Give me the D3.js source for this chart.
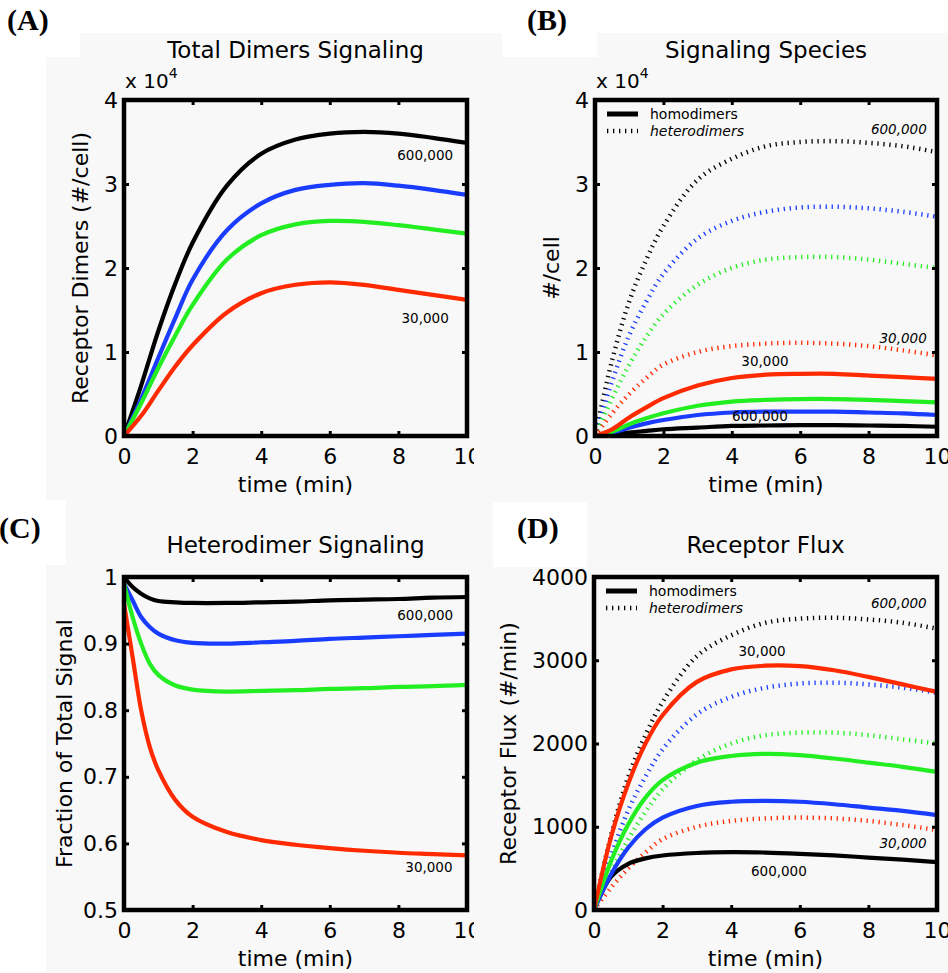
<!doctype html>
<html lang="en">
<head>
<meta charset="utf-8">
<title>Receptor dimer signaling</title>
<script src="https://cdn.jsdelivr.net/npm/d3@7"></script>
<style>
  body { margin: 0; background: #fff; }
  svg text { font-family: "DejaVu Sans", sans-serif; fill: #000; }
  .tag { font-family: "Liberation Serif", "Times New Roman", serif; font-weight: bold; font-size: 30px; }
  .title { font-size: 23px; }
  .tick text { font-size: 22px; }
  .axis-label { font-size: 22px; }
  .note { font-size: 13.5px; }
  .legend { font-size: 14px; }
</style>
</head>
<body>
<svg id="fig" width="948" height="973"></svg>
<script>
// time points (min)
var times = [0, 0.5, 1, 1.5, 2, 3, 4, 5, 6, 7, 8, 9, 10];
var timesC = [0, 0.25, 0.5, 0.75, 1, 1.5, 2, 3, 4, 5, 6, 7, 8, 9, 10];
var xTicks = [0, 2, 4, 6, 8, 10];

// (A) total signaling dimers, x 10^4 per cell
var totalBlack = [0, 0.6, 1.25, 1.82, 2.3, 2.98, 3.36, 3.53, 3.6, 3.62, 3.6, 3.55, 3.49];
var totalBlue  = [0, 0.44, 0.93, 1.41, 1.86, 2.45, 2.77, 2.93, 2.99, 3.01, 2.98, 2.93, 2.87];
var totalGreen = [0, 0.39, 0.81, 1.2, 1.56, 2.1, 2.39, 2.52, 2.56, 2.55, 2.51, 2.46, 2.41];
var totalRed   = [0, 0.24, 0.54, 0.83, 1.08, 1.47, 1.7, 1.8, 1.83, 1.8, 1.74, 1.68, 1.62];

// (B) signaling species, x 10^4 per cell
var homoBlack  = [0, 0.02, 0.04, 0.06, 0.08, 0.1, 0.12, 0.125, 0.13, 0.13, 0.125, 0.12, 0.11];
var homoBlue   = [0, 0.04, 0.1, 0.15, 0.19, 0.25, 0.28, 0.29, 0.29, 0.29, 0.28, 0.27, 0.25];
var homoGreen  = [0, 0.05, 0.14, 0.21, 0.27, 0.36, 0.41, 0.43, 0.44, 0.44, 0.43, 0.415, 0.4];
var homoRed    = [0, 0.08, 0.22, 0.34, 0.45, 0.6, 0.69, 0.73, 0.74, 0.74, 0.72, 0.7, 0.68];
var heteroBlack = [0, 0.9, 1.6, 2.1, 2.5, 3.05, 3.3, 3.45, 3.5, 3.51, 3.49, 3.45, 3.38];
var heteroBlue  = [0, 0.65, 1.2, 1.6, 1.93, 2.35, 2.56, 2.67, 2.72, 2.73, 2.71, 2.67, 2.61];
var heteroGreen = [0, 0.45, 0.85, 1.18, 1.45, 1.8, 2.0, 2.1, 2.13, 2.13, 2.1, 2.05, 2.0];
var heteroRed   = [0, 0.27, 0.5, 0.69, 0.85, 1.0, 1.07, 1.1, 1.11, 1.1, 1.07, 1.02, 0.96];

// (C) heterodimer fraction of total signal (timesC)
var fracBlack = [1.0, 0.985, 0.975, 0.968, 0.964, 0.962, 0.961, 0.961, 0.962, 0.963, 0.965, 0.966, 0.967, 0.969, 0.97];
var fracBlue  = [0.99, 0.965, 0.94, 0.925, 0.915, 0.905, 0.901, 0.9, 0.902, 0.904, 0.907, 0.909, 0.911, 0.913, 0.915];
var fracGreen = [0.99, 0.94, 0.9, 0.87, 0.853, 0.837, 0.831, 0.828, 0.829, 0.83, 0.832, 0.833, 0.835, 0.836, 0.838];
var fracRed   = [0.96, 0.88, 0.8, 0.745, 0.71, 0.665, 0.64, 0.617, 0.605, 0.598, 0.593, 0.589, 0.586, 0.584, 0.582];

// (D) receptor flux, #/min
var fluxHomoBlack = [0, 400, 555, 620, 655, 685, 695, 690, 675, 655, 630, 605, 575];
var fluxHomoBlue  = [0, 430, 750, 970, 1110, 1250, 1300, 1310, 1300, 1270, 1230, 1190, 1140];
var fluxHomoGreen = [0, 590, 1030, 1350, 1560, 1770, 1850, 1875, 1860, 1820, 1770, 1720, 1660];
var fluxHomoRed   = [0, 880, 1520, 2000, 2340, 2740, 2890, 2935, 2930, 2880, 2800, 2710, 2620];
var fluxHeteroBlack = [0, 900, 1600, 2100, 2500, 3050, 3300, 3450, 3500, 3510, 3490, 3450, 3380];
var fluxHeteroBlue  = [0, 650, 1200, 1600, 1930, 2350, 2560, 2670, 2720, 2730, 2710, 2670, 2610];
var fluxHeteroGreen = [0, 450, 850, 1180, 1450, 1800, 2000, 2100, 2130, 2130, 2100, 2050, 2000];
var fluxHeteroRed   = [0, 270, 500, 690, 850, 1000, 1070, 1100, 1110, 1100, 1070, 1020, 960];

var colors = { black: "#000000", blue: "#1a3cff", green: "#22ee22", red: "#ff2a00" };

var svg = d3.select("#fig");

// light grey figure background with white patches behind the panel tags
var grey = "#f8f8f8";
svg.append("path")
  .attr("d", "M80,33H948V973H46V57H80Z")
  .attr("fill", grey);
svg.append("rect").attr("x", 502).attr("y", 33).attr("width", 95).attr("height", 24).attr("fill", "#fff");
svg.append("rect").attr("x", 0).attr("y", 500).attr("width", 66).attr("height", 65).attr("fill", "#fff");
svg.append("rect").attr("x", 493).attr("y", 502).attr("width", 94).attr("height", 65).attr("fill", "#fff");

svg.append("defs").append("clipPath").attr("id", "leftclip")
  .append("rect").attr("x", 0).attr("y", 0).attr("width", 474).attr("height", 973);

var panels = [
  {
    tag: "(A)", tagX: 7, tagY: 30, left: 124, top: 100, right: 467, bottom: 436,
    title: "Total Dimers Signaling", titleY: 58, ylabel: "Receptor Dimers (#/cell)", ylabelX: 88,
    yDomain: [0, 4], yTicks: [0, 1, 2, 3, 4], exponent: true, t: times, clip: true,
    series: [
      { v: totalBlack, c: "black" }, { v: totalBlue, c: "blue" },
      { v: totalGreen, c: "green" }, { v: totalRed, c: "red" }
    ],
    notes: [
      { t: 8.78, v: 3.29, text: "600,000", anchor: "middle" },
      { t: 8.78, v: 1.35, text: "30,000", anchor: "middle" }
    ]
  },
  {
    tag: "(B)", tagX: 527, tagY: 30, left: 595, top: 100, right: 937, bottom: 436,
    title: "Signaling Species", titleY: 58, ylabel: "#/cell", ylabelX: 559,
    yDomain: [0, 4], yTicks: [0, 1, 2, 3, 4], exponent: true, t: times, legend: true,
    series: [
      { v: heteroBlack, c: "black", dot: true }, { v: heteroBlue, c: "blue", dot: true },
      { v: heteroGreen, c: "green", dot: true }, { v: heteroRed, c: "red", dot: true },
      { v: homoBlack, c: "black" }, { v: homoBlue, c: "blue" },
      { v: homoGreen, c: "green" }, { v: homoRed, c: "red" }
    ],
    notes: [
      { t: 9.7, v: 3.6, text: "600,000", anchor: "end", italic: true },
      { t: 9.7, v: 1.11, text: "30,000", anchor: "end", italic: true },
      { t: 4.97, v: 0.83, text: "30,000", anchor: "middle" },
      { t: 4.82, v: 0.18, text: "600,000", anchor: "middle" }
    ]
  },
  {
    tag: "(C)", tagX: -1, tagY: 538, left: 124, top: 577, right: 467, bottom: 910,
    title: "Heterodimer Signaling", titleY: 553, ylabel: "Fraction of Total Signal", ylabelX: 72,
    yDomain: [0.5, 1], yTicks: [0.5, 0.6, 0.7, 0.8, 0.9, 1], t: timesC, clip: true,
    series: [
      { v: fracBlack, c: "black" }, { v: fracBlue, c: "blue" },
      { v: fracGreen, c: "green" }, { v: fracRed, c: "red" }
    ],
    notes: [
      { t: 8.78, v: 0.935, text: "600,000", anchor: "middle" },
      { t: 8.89, v: 0.557, text: "30,000", anchor: "middle" }
    ]
  },
  {
    tag: "(D)", tagX: 517, tagY: 538, left: 594, top: 577, right: 937, bottom: 910,
    title: "Receptor Flux", titleY: 553, ylabel: "Receptor Flux (#/min)", ylabelX: 516,
    yDomain: [0, 4000], yTicks: [0, 1000, 2000, 3000, 4000], t: times, legend: true,
    series: [
      { v: fluxHeteroBlack, c: "black", dot: true }, { v: fluxHeteroBlue, c: "blue", dot: true },
      { v: fluxHeteroGreen, c: "green", dot: true }, { v: fluxHeteroRed, c: "red", dot: true },
      { v: fluxHomoBlack, c: "black" }, { v: fluxHomoBlue, c: "blue" },
      { v: fluxHomoGreen, c: "green" }, { v: fluxHomoRed, c: "red" }
    ],
    notes: [
      { t: 9.7, v: 3628, text: "600,000", anchor: "end", italic: true },
      { t: 9.7, v: 745, text: "30,000", anchor: "end", italic: true },
      { t: 4.9, v: 3051, text: "30,000", anchor: "middle" },
      { t: 5.39, v: 408, text: "600,000", anchor: "middle" }
    ]
  }
];

panels.forEach(function(p) {
  var root = svg.append("g");
  if (p.clip) root.attr("clip-path", "url(#leftclip)");

  var x = d3.scaleLinear().domain([0, 10]).range([p.left, p.right]);
  var y = d3.scaleLinear().domain(p.yDomain).range([p.bottom, p.top]);

  root.append("text").attr("class", "tag")
    .attr("x", p.tagX).attr("y", p.tagY).text(p.tag);

  root.append("text").attr("class", "title")
    .attr("x", (p.left + p.right) / 2).attr("y", p.titleY)
    .attr("text-anchor", "middle").text(p.title);

  // curves
  var line = d3.line()
    .x(function(d, i) { return x(p.t[i]); })
    .y(function(d) { return y(d); })
    .curve(d3.curveCatmullRom.alpha(0.5));

  p.series.forEach(function(s) {
    root.append("path")
      .attr("d", line(s.v))
      .attr("fill", "none")
      .attr("stroke", colors[s.c])
      .attr("stroke-width", s.dot ? 4.5 : 4.2)
      .attr("stroke-dasharray", s.dot ? "1.3 4.7" : null)
      .attr("stroke-linejoin", "round");
  });

  // annotations
  p.notes.forEach(function(n) {
    root.append("text").attr("class", "note")
      .attr("x", x(n.t)).attr("y", y(n.v))
      .attr("text-anchor", n.anchor)
      .style("font-style", n.italic ? "italic" : null)
      .text(n.text);
  });

  // legend
  if (p.legend) {
    var lg = root.append("g").attr("transform", "translate(" + p.left + "," + p.top + ")");
    [{ label: "homodimers", dot: false, dy: 14 }, { label: "heterodimers", dot: true, dy: 31 }].forEach(function(e) {
      lg.append("line")
        .attr("x1", 12).attr("x2", 43).attr("y1", e.dy).attr("y2", e.dy)
        .attr("stroke", "#000")
        .attr("stroke-width", e.dot ? 4.5 : 5)
        .attr("stroke-dasharray", e.dot ? "1.3 4.7" : null);
      lg.append("text").attr("class", "legend")
        .attr("x", 55).attr("y", e.dy + 5)
        .style("font-style", e.dot ? "italic" : null)
        .text(e.label);
    });
  }

  // axes with inward ticks on all four sides
  var fmt = function(d) { return String(d); };
  var bottom = root.append("g").attr("transform", "translate(0," + p.bottom + ")")
    .call(d3.axisBottom(x).tickValues(xTicks).tickSizeInner(-5).tickSizeOuter(0).tickPadding(12).tickFormat(fmt));
  var top = root.append("g").attr("transform", "translate(0," + p.top + ")")
    .call(d3.axisTop(x).tickValues(xTicks).tickSizeInner(-5).tickSizeOuter(0).tickFormat(""));
  var left = root.append("g").attr("transform", "translate(" + p.left + ",0)")
    .call(d3.axisLeft(y).tickValues(p.yTicks).tickSizeInner(-5).tickSizeOuter(0).tickPadding(6).tickFormat(fmt));
  var right = root.append("g").attr("transform", "translate(" + p.right + ",0)")
    .call(d3.axisRight(y).tickValues(p.yTicks).tickSizeInner(-5).tickSizeOuter(0).tickFormat(""));
  [bottom, top, left, right].forEach(function(a) {
    a.attr("font-family", null).attr("font-size", null);
    a.select(".domain").remove();
    a.selectAll(".tick line").attr("stroke-width", 3);
  });

  root.append("rect")
    .attr("x", p.left).attr("y", p.top)
    .attr("width", p.right - p.left).attr("height", p.bottom - p.top)
    .attr("fill", "none").attr("stroke", "#000").attr("stroke-width", 4.5);

  root.append("text").attr("class", "axis-label")
    .attr("x", (p.left + p.right) / 2).attr("y", p.bottom + 56)
    .attr("text-anchor", "middle").text("time (min)");

  root.append("text").attr("class", "axis-label")
    .attr("transform", "translate(" + p.ylabelX + "," + ((p.top + p.bottom) / 2) + ") rotate(-90)")
    .attr("text-anchor", "middle").text(p.ylabel);

  if (p.exponent) {
    var ex = root.append("text").attr("x", p.left + 1).attr("y", p.top - 12).style("font-size", "20px");
    ex.append("tspan").text("x 10");
    ex.append("tspan").attr("dy", -10).style("font-size", "14px").text("4");
  }
});
</script>
</body>
</html>
